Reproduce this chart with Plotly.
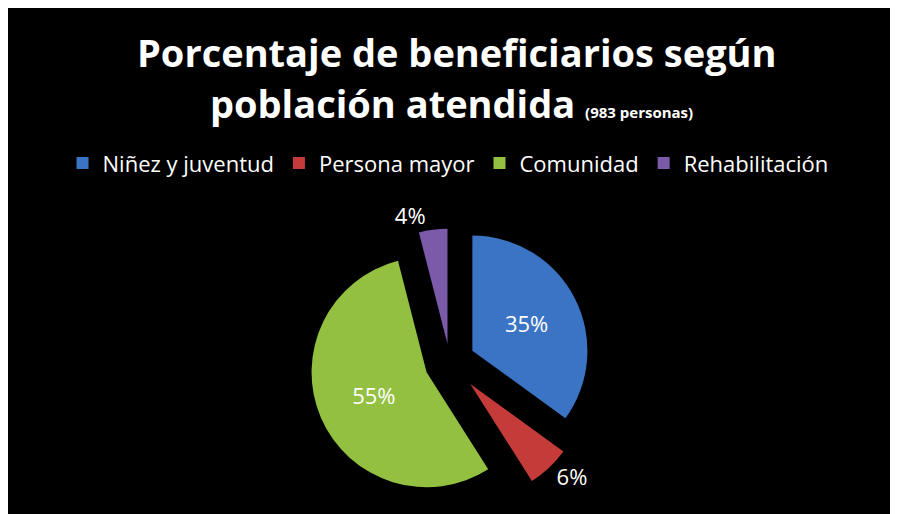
import plotly.graph_objects as go

categories = ["Niñez y juventud", "Persona mayor", "Comunidad", "Rehabilitación"]
values = [35, 6, 55, 4]
colors = ["#3b74c4", "#c43b3a", "#93c040", "#7b5aa9"]
pulls = [0.22, 0.26, 0.22, 0.16]
text_positions = ["inside", "outside", "inside", "outside"]

title_line1 = "Porcentaje de beneficiarios según"
title_line2 = "población atendida"
title_note = "(983 personas)"

W, H = 898, 514
FONT = "Open Sans"

fig = go.Figure()
fig.add_trace(go.Pie(
    labels=categories,
    values=values,
    sort=False,
    direction="clockwise",
    rotation=0,
    pull=pulls,
    marker=dict(colors=colors, line=dict(width=0)),
    texttemplate="%{value}%",
    textposition=text_positions,
    insidetextorientation="horizontal",
    textfont=dict(family=FONT, size=22, color="white"),
    domain=dict(x=[0.2, 0.784], y=[0.029, 0.593]),
    hoverinfo="label+percent",
))

fig.update_layout(
    width=W, height=H,
    paper_bgcolor="black",
    margin=dict(l=0, r=0, t=0, b=0, autoexpand=False),
    legend=dict(
        orientation="h",
        x=0.49, xanchor="center",
        y=0.698, yanchor="middle",
        font=dict(family=FONT, size=22, color="white"),
        bgcolor="rgba(0,0,0,0)",
    ),
    annotations=[
        dict(text="<b>" + title_line1 + "</b>", x=0.5, y=0.914,
             xref="paper", yref="paper", xanchor="center", yanchor="middle",
             showarrow=False, font=dict(family=FONT, size=38, color="white")),
        dict(text="<b>" + title_line2 + " <span style='font-size:15px'>" + title_note + "</span></b>",
             x=0.494, y=0.815,
             xref="paper", yref="paper", xanchor="center", yanchor="middle",
             showarrow=False, font=dict(family=FONT, size=38, color="white")),
    ],
)

fig.write_html("out.html")
